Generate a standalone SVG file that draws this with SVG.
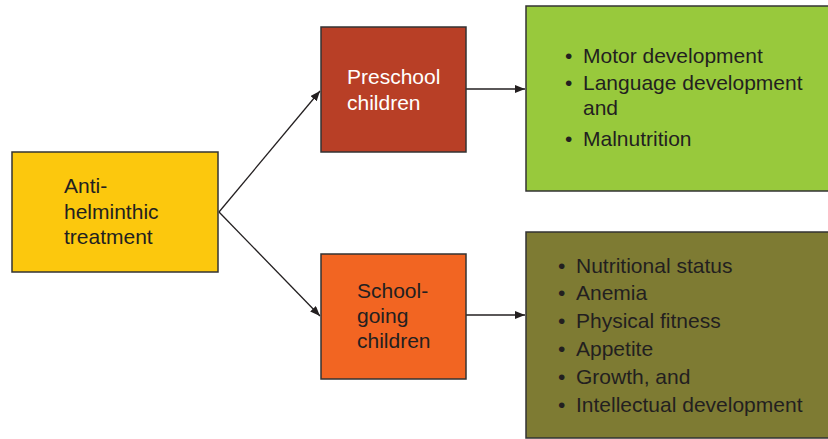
<svg xmlns="http://www.w3.org/2000/svg" width="828" height="439" viewBox="0 0 828 439">
  <style>
    .box { stroke: #333; stroke-width: 1.5; }
    .lbl { font-family: "Liberation Sans", Arial, sans-serif; font-size: 21px; fill: #231f20; }
    .lbl.light { fill: #ffffff; }
    .edge { stroke: #231f20; stroke-width: 1.3; fill: none; marker-end: url(#arrow); }
  </style>
  <defs>
    <marker id="arrow" viewBox="0 0 10 8" refX="10" refY="4" markerWidth="10" markerHeight="8" markerUnits="userSpaceOnUse" orient="auto">
      <path d="M0,0 L10,4 L0,8 Z" fill="#231f20"/>
    </marker>
  </defs>
  <rect width="828" height="439" fill="#ffffff"/>

  <g id="connectors">
    <line class="edge" x1="219" y1="212" x2="320" y2="91"/>
    <line class="edge" x1="219" y1="212" x2="320" y2="316"/>
    <line class="edge" x1="466" y1="89" x2="525" y2="89"/>
    <line class="edge" x1="466" y1="315" x2="525" y2="315"/>
  </g>

  <g id="treatment">
    <rect class="box" x="12" y="152" width="206" height="120" fill="#fcc80d"/>
    <text class="lbl" x="64" y="193">Anti-</text>
    <text class="lbl" x="64" y="219">helminthic</text>
    <text class="lbl" x="64" y="244">treatment</text>
  </g>

  <g id="preschool">
    <rect class="box" x="321" y="27" width="145" height="125" fill="#b83f26"/>
    <text class="lbl light" x="347" y="84">Preschool</text>
    <text class="lbl light" x="347" y="110">children</text>
  </g>

  <g id="school">
    <rect class="box" x="321" y="254" width="145" height="125" fill="#f26522"/>
    <text class="lbl" x="357" y="298">School-</text>
    <text class="lbl" x="357" y="323">going</text>
    <text class="lbl" x="357" y="348">children</text>
  </g>

  <g id="preschool-outcomes">
    <rect class="box" x="526" y="6" width="310" height="185" fill="#98c93c"/>
    <text class="lbl" x="565" y="63">•</text>
    <text class="lbl" x="583" y="63">Motor development</text>
    <text class="lbl" x="565" y="90">•</text>
    <text class="lbl" x="583" y="90">Language development</text>
    <text class="lbl" x="583" y="115">and</text>
    <text class="lbl" x="565" y="146">•</text>
    <text class="lbl" x="583" y="146">Malnutrition</text>
  </g>

  <g id="school-outcomes">
    <rect class="box" x="526" y="232" width="310" height="206" fill="#7e7b33"/>
    <text class="lbl" x="558" y="273">•</text>
    <text class="lbl" x="576" y="273">Nutritional status</text>
    <text class="lbl" x="558" y="300">•</text>
    <text class="lbl" x="576" y="300">Anemia</text>
    <text class="lbl" x="558" y="328">•</text>
    <text class="lbl" x="576" y="328">Physical fitness</text>
    <text class="lbl" x="558" y="356">•</text>
    <text class="lbl" x="576" y="356">Appetite</text>
    <text class="lbl" x="558" y="384">•</text>
    <text class="lbl" x="576" y="384">Growth, and</text>
    <text class="lbl" x="558" y="412">•</text>
    <text class="lbl" x="576" y="412">Intellectual development</text>
  </g>
</svg>
